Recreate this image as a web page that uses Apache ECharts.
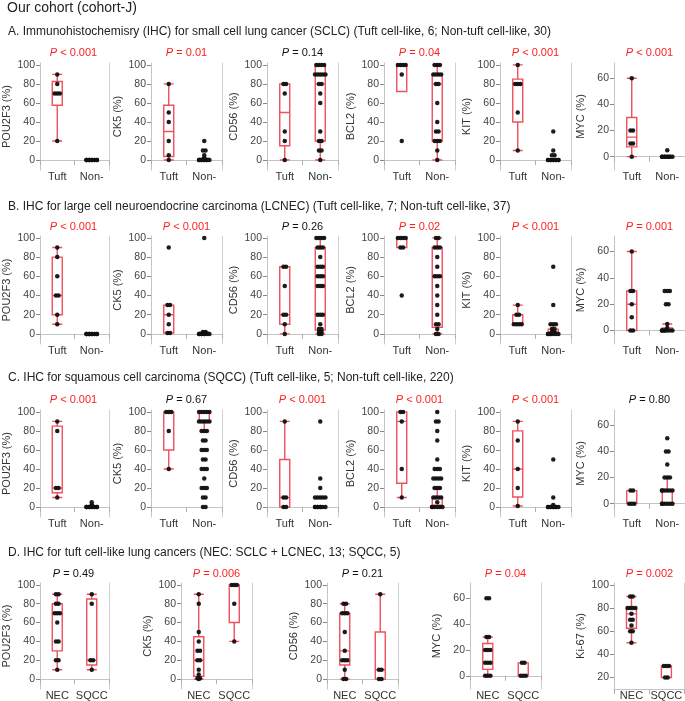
<!DOCTYPE html>
<html><head><meta charset="utf-8">
<script src="https://cdn.jsdelivr.net/npm/echarts@6/dist/echarts.min.js"></script>
<style>html,body{margin:0;padding:0;background:#fff}#c{width:685px;height:701px}</style>
</head><body><div id="c"></div>
<script>
const FONT = '"Liberation Sans", Arial, sans-serif';
const mainTitle = 'Our cohort (cohort-J)';
const rowTitles = [
  'A. Immunohistochemisry (IHC) for small cell lung cancer (SCLC) (Tuft cell-like, 6; Non-tuft cell-like, 30)',
  'B. IHC for large cell neuroendocrine carcinoma (LCNEC) (Tuft cell-like, 7; Non-tuft cell-like, 37)',
  'C. IHC for squamous cell carcinoma (SQCC) (Tuft cell-like, 5; Non-tuft cell-like, 220)',
  'D. IHC for tuft cell-like lung cancers (NEC: SCLC + LCNEC, 13; SQCC, 5)'
];
const catsABC = ['Tuft', 'Non-'];
const catsD = ['NEC', 'SQCC'];

// ---- Row A: SCLC ----
const markersA = ['POU2F3', 'CK5', 'CD56', 'BCL2', 'KIT', 'MYC'];
const pA = ['< 0.001', '= 0.01', '= 0.14', '= 0.04', '< 0.001', '< 0.001'];
const sigA = [true, true, false, true, true, true];
const tuftA = [
  [90, 80, 70, 70, 70, 20],
  [80, 50, 40, 20, 5, 0],
  [80, 80, 70, 30, 20, 0],
  [100, 100, 100, 100, 90, 20],
  [100, 80, 80, 80, 50, 10],
  [60, 20, 20, 10, 10, 0]
];
const nonA = [
  [0, 0, 0, 0, 0, 0, 0, 0, 0, 0, 0, 0],
  [20, 10, 10, 5, 2, 1, 0, 0, 0, 0, 0, 0, 0, 0, 0],
  [100, 100, 100, 100, 90, 90, 90, 90, 90, 80, 80, 70, 60, 30, 20, 20, 10, 10, 0],
  [100, 100, 100, 90, 90, 90, 90, 80, 80, 60, 40, 30, 30, 20, 20, 20, 10, 0],
  [30, 10, 5, 5, 0, 0, 0, 0, 0, 0, 0, 0, 0, 0],
  [5, 0, 0, 0, 0, 0, 0, 0, 0, 0]
];
const tuftBoxA = [[20, 57.5, 70, 82.5, 90], [0, 3.75, 30, 57.5, 80], [0, 15, 50, 80, 80], [72, 72, 100, 100, 100], [10, 40, 80, 85, 100], [0, 7.5, 15, 30, 60]];
const nonBoxA = [[0, 0, 0, 0, 0], [0, 0, 0, 1, 2], [0, 20, 80, 100, 100], [0, 20, 80, 90, 100], [0, 0, 0, 0, 0], [0, 0, 0, 0, 0]];

// ---- Row B: LCNEC ----
const markersB = ['POU2F3', 'CK5', 'CD56', 'BCL2', 'KIT', 'MYC'];
const pB = ['< 0.001', '< 0.001', '= 0.26', '= 0.02', '< 0.001', '= 0.001'];
const sigB = [true, true, false, true, true, true];
const tuftB = [
  [90, 80, 60, 40, 40, 20, 10],
  [90, 30, 30, 20, 10, 1, 1],
  [70, 70, 50, 20, 20, 10, 0],
  [100, 100, 100, 100, 90, 90, 40],
  [30, 20, 20, 10, 10, 10, 10],
  [60, 30, 30, 20, 10, 0, 0]
];
const nonB = [
  [0, 0, 0, 0, 0, 0, 0, 0, 0, 0, 0, 0],
  [100, 2, 2, 1, 1, 0, 0, 0, 0, 0, 0, 0, 0],
  [100, 100, 100, 100, 90, 90, 90, 80, 70, 70, 70, 60, 60, 60, 50, 50, 50, 20, 20, 20, 10, 5, 5, 2, 2, 0, 0],
  [100, 100, 90, 90, 90, 80, 70, 60, 60, 60, 50, 40, 30, 20, 10, 10, 5, 0, 0],
  [70, 30, 10, 10, 10, 5, 5, 2, 2, 0, 0, 0, 0, 0, 0, 0],
  [30, 30, 30, 20, 20, 5, 2, 0, 0, 0, 0, 0, 0, 0]
];
const tuftBoxB = [[10, 20, 40, 80, 90], [1, 1, 20, 30, 30], [0, 10, 20, 70, 70], [90, 90, 100, 100, 100], [10, 10, 10, 20, 30], [0, 0, 20, 30, 60]];
const nonBoxB = [[0, 0, 0, 0, 0], [0, 0, 0, 1, 2], [0, 4, 60, 90, 100], [0, 7, 60, 90, 100], [0, 0, 2, 5, 10], [0, 0, 0, 2, 5]];

// ---- Row C: SQCC ----
const markersC = ['POU2F3', 'CK5', 'CD56', 'BCL2', 'KIT', 'MYC'];
const pC = ['< 0.001', '= 0.67', '< 0.001', '< 0.001', '< 0.001', '= 0.80'];
const sigC = [true, false, true, true, true, false];
const tuftC = [
  [90, 80, 20, 20, 10],
  [100, 100, 100, 80, 40],
  [90, 10, 10, 0, 0],
  [100, 100, 90, 40, 10],
  [90, 70, 40, 20, 1],
  [10, 10, 0, 0, 0]
];
const nonC = [
  [5, 2, 1, 0, 0, 0, 0, 0, 0, 0, 0, 0, 0, 0],
  [100, 100, 100, 100, 100, 90, 90, 90, 90, 90, 80, 80, 80, 70, 70, 60, 60, 60, 50, 50, 40, 40, 40, 30, 20, 20, 20, 10, 10, 0, 0],
  [90, 30, 20, 10, 10, 10, 10, 10, 0, 0, 0, 0, 0, 0, 0, 0],
  [100, 90, 90, 80, 70, 50, 40, 40, 40, 30, 30, 30, 30, 20, 20, 20, 10, 10, 10, 10, 5, 0, 0, 0, 0, 0, 0],
  [50, 10, 2, 0, 0, 0, 0, 0, 0, 0, 0, 0],
  [50, 40, 40, 30, 20, 20, 20, 10, 10, 10, 10, 10, 10, 0, 0, 0, 0, 0, 0]
];
const tuftBoxC = [[10, 15, 20, 85, 90], [40, 60, 100, 100, 100], [0, 0, 10, 50, 90], [10, 25, 90, 100, 100], [1, 10.5, 40, 80, 90], [0, 0, 0, 10, 10]];
const nonBoxC = [[0, 0, 0, 0, 0], [80, 90, 100, 100, 100], [0, 0, 0, 0, 0], [0, 0, 2, 10, 20], [0, 0, 0, 0, 0], [0, 0, 10, 10, 20]];

// ---- Row D: tuft cell-like NEC vs SQCC ----
const markersD = ['POU2F3', 'CK5', 'CD56', 'MYC', 'Ki-67'];
const pD = ['= 0.49', '= 0.006', '= 0.21', '= 0.04', '= 0.002'];
const sigD = [false, true, false, true, true];
const necD = [
  [90, 90, 80, 80, 70, 70, 70, 60, 40, 40, 20, 20, 10],
  [90, 80, 50, 40, 30, 30, 20, 20, 10, 5, 1, 1, 0],
  [80, 80, 70, 70, 70, 50, 30, 20, 20, 20, 10, 0, 0],
  [60, 60, 30, 30, 20, 20, 20, 10, 10, 10, 0, 0, 0],
  [90, 90, 80, 80, 80, 80, 75, 70, 70, 65, 60, 60, 50]
];
const sqccD = [
  [90, 80, 20, 20, 10],
  [100, 100, 100, 80, 40],
  [90, 10, 10, 0, 0],
  [10, 10, 0, 0, 0],
  [30, 30, 30, 20, 20]
];
const necBoxD = [[10, 30, 70, 80, 90], [0, 3, 20, 45, 90], [0, 15, 30, 70, 80], [0, 5, 20, 25, 30], [50, 62.5, 75, 80, 90]];
const sqccBoxD = [[10, 15, 20, 85, 90], [40, 60, 100, 100, 100], [0, 0, 10, 50, 90], [0, 0, 0, 10, 10], [20, 20, 30, 30, 30]];

// ---- layout (positions/styles) ----
const rowTitleY = [32, 207, 378, 553];
const pY = [53, 227, 400, 574];
const gridTop = [63, 236, 410, 583];
const gridBot = [170, 344, 517, 690];
const colLeftABC = [38, 151, 267, 384, 500, 614];
const colLeftD = [38, 181, 327, 470, 614];
const PW = 71;
const RED = '#ff1f1f';
const BOX = '#f0505f';
const scales = {
  std: {min: -10.5, max: 102, ticks: [0, 20, 40, 60, 80, 100]},
  myc: {min: -10.2, max: 71.7, ticks: [0, 20, 40, 60]},
  ki: {min: 10, max: 101.7, ticks: [20, 40, 60, 80, 100]}
};

const option = {animation: false, grid: [], xAxis: [], yAxis: [], series: [], graphic: []};

function dodge(values, ci) {
  const counts = {}, seen = {};
  values.forEach(v => { counts[v] = (counts[v] || 0) + 1; });
  return values.map(v => {
    const n = counts[v];
    const k = seen[v] || 0; seen[v] = k + 1;
    const m = Math.min(n, 5);
    const off = ((k % m) - (m - 1) / 2) * 2.6;
    return {value: [ci, v], symbolOffset: [off, 0]};
  });
}

function addPanel(row, left, marker, pText, sig, cats, g1, g2, b1, b2) {
  const gi = option.grid.length;
  const sc = marker === 'MYC' ? scales.myc : (marker === 'Ki-67' ? scales.ki : scales.std);
  option.grid.push({left: left, top: gridTop[row], width: PW, height: gridBot[row] - gridTop[row]});
  option.xAxis.push({
    type: 'category', gridIndex: gi, data: cats, boundaryGap: true,
    axisLine: {lineStyle: {color: '#c4c4c4'}},
    axisTick: {show: true, interval: 0, length: 5, lineStyle: {color: '#b0b0b0'}},
    axisLabel: {color: '#333', fontSize: 11, fontFamily: FONT, margin: 1, interval: 0},
    splitLine: {show: false}
  });
  option.yAxis.push({
    type: 'value', gridIndex: gi, min: sc.min, max: sc.max,
    name: marker + ' (%)', nameLocation: 'middle', nameRotate: 90, nameGap: 28,
    nameTextStyle: {color: '#333', fontSize: 11, fontFamily: FONT},
    axisLine: {show: true, lineStyle: {color: '#c4c4c4'}},
    axisTick: {show: true, length: 4, customValues: sc.ticks, lineStyle: {color: '#888'}},
    axisLabel: {color: '#444', fontSize: 10.5, fontFamily: FONT, margin: 5, customValues: sc.ticks},
    splitLine: {show: false}
  });
  option.yAxis.push({
    type: 'value', gridIndex: gi, min: sc.min, max: sc.max, position: 'right',
    axisLine: {show: true, lineStyle: {color: '#d0d0d0'}},
    axisTick: {show: false}, axisLabel: {show: false}, splitLine: {show: false}
  });
  option.series.push({
    type: 'boxplot', xAxisIndex: gi, yAxisIndex: 2 * gi, boxWidth: [10, 10],
    data: [b1, b2], silent: true, z: 2,
    itemStyle: {color: 'rgba(0,0,0,0)', borderColor: BOX, borderWidth: 1.4}
  });
  option.series.push({
    type: 'scatter', xAxisIndex: gi, yAxisIndex: 2 * gi, symbolSize: 4.5, silent: true, z: 3,
    itemStyle: {color: '#111', opacity: 0.95},
    data: dodge(g1, 0).concat(dodge(g2, 1))
  });
  const col = sig ? RED : '#111';
  option.graphic.push({
    type: 'text', x: left + PW / 2, y: pY[row], silent: true,
    style: {
      text: '{i|P} {n|' + pText + '}',
      align: 'center', verticalAlign: 'middle', textAlign: 'center', textVerticalAlign: 'middle',
      fill: col, font: '11px ' + FONT,
      rich: {
        i: {fontStyle: 'italic', fontSize: 11, fontFamily: FONT, fill: col, color: col},
        n: {fontSize: 11, fontFamily: FONT, fill: col, color: col}
      }
    }
  });
}

const rowsABC = [
  [markersA, pA, sigA, tuftA, nonA, tuftBoxA, nonBoxA],
  [markersB, pB, sigB, tuftB, nonB, tuftBoxB, nonBoxB],
  [markersC, pC, sigC, tuftC, nonC, tuftBoxC, nonBoxC]
];
rowsABC.forEach((r, ri) => {
  r[0].forEach((m, i) => addPanel(ri, colLeftABC[i], m, r[1][i], r[2][i], catsABC, r[3][i], r[4][i], r[5][i], r[6][i]));
});
markersD.forEach((m, i) => addPanel(3, colLeftD[i], m, pD[i], sigD[i], catsD, necD[i], sqccD[i], necBoxD[i], sqccBoxD[i]));

option.graphic.push({type: 'text', x: 7, y: 8, silent: true,
  style: {text: mainTitle, fill: '#222', font: '14px ' + FONT, verticalAlign: 'middle', textVerticalAlign: 'middle'}});
rowTitles.forEach((t, i) => option.graphic.push({type: 'text', x: 8, y: rowTitleY[i], silent: true,
  style: {text: t, fill: '#222', font: '12px ' + FONT, verticalAlign: 'middle', textVerticalAlign: 'middle'}}));

const chart = echarts.init(document.getElementById('c'), null, {renderer: 'canvas'});
chart.setOption(option);
</script></body></html>
